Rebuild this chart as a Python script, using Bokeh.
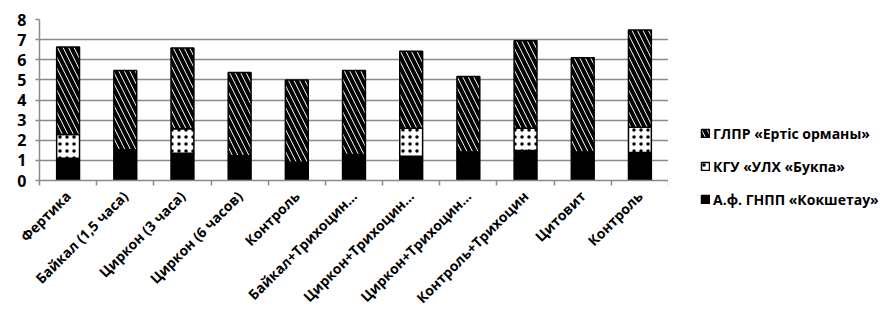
import math
from bokeh.plotting import figure
from bokeh.layouts import row, column
from bokeh.models import ColumnDataSource, FixedTicker, Legend, LegendItem
from bokeh.transform import stack
from bokeh.embed import file_html
from bokeh.resources import INLINE

categories = ["Фертика", "Байкал (1,5 часа)", "Циркон (3 часа)", "Циркон (6 часов)",
              "Контроль", "Байкал+Трихоцин…", "Циркон+Трихоцин…", "Циркон+Трихоцин…",
              "Контроль+Трихоцин", "Цитовит", "Контроль"]
kokshetau = [1.11, 1.53, 1.36, 1.23, 0.91, 1.29, 1.21, 1.41, 1.49, 1.41, 1.39]
bukpa = [1.18, 0.0, 1.21, 0.0, 0.0, 0.0, 1.39, 0.0, 1.11, 0.0, 1.25]
ertis = [4.34, 3.94, 4.01, 4.14, 4.08, 4.18, 3.82, 3.76, 4.35, 4.69, 4.84]
series_names = ["А.ф. ГНПП «Кокшетау»", "КГУ «УЛХ «Букпа»", "ГЛПР «Ертіс орманы»"]
y_ticks = [0, 1, 2, 3, 4, 5, 6, 7, 8]

x = list(range(len(categories)))
src = ColumnDataSource(dict(x=x, a=kokshetau, b=bukpa, c=ertis))

FONT = "Open Sans"
GRID = "#8a8a8a"

styles = [dict(fill_color="black"),
          dict(fill_color="white", hatch_pattern=".", hatch_color="black",
               hatch_scale=7, hatch_weight=0.35),
          dict(fill_color="white", hatch_pattern="\\", hatch_color="black",
               hatch_scale=11, hatch_weight=4)]


def add_bars(fig, visible=True):
    common = dict(x="x", width=0.4, source=src, line_color="black", line_width=1.5,
                  visible=visible)
    r1 = fig.vbar(bottom=stack(), top=stack("a"), **styles[0], **common)
    r2 = fig.vbar(bottom=stack("a"), top=stack("a", "b"), **styles[1], **common)
    r3 = fig.vbar(bottom=stack("a", "b"), top=stack("a", "b", "c"), **styles[2], **common)
    return r1, r2, r3


p = figure(width=668, height=319, output_backend="svg", toolbar_location=None,
           x_range=(-0.5, len(categories) - 0.5), y_range=(0, 8),
           min_border_left=39, min_border_right=0, min_border_top=19, min_border_bottom=139)
p.outline_line_color = None
add_bars(p)

# axes
p.xgrid.visible = False
p.ygrid.grid_line_color = GRID
p.ygrid.grid_line_width = 1.5
p.yaxis.ticker = FixedTicker(ticks=y_ticks)
p.yaxis.axis_line_color = GRID
p.yaxis.axis_line_width = 1.5
p.yaxis.major_tick_line_color = GRID
p.yaxis.major_tick_line_width = 1.5
p.yaxis.major_tick_out = 4
p.yaxis.major_tick_in = 0
p.yaxis.minor_tick_line_color = None
p.yaxis.major_label_text_font = FONT
p.yaxis.major_label_text_font_style = "bold"
p.yaxis.major_label_text_font_size = "16px"
p.yaxis.major_label_text_color = "black"
p.yaxis.major_label_standoff = 9

bounds = [i - 0.5 for i in range(len(categories) + 1)]
p.xaxis.ticker = FixedTicker(ticks=x, minor_ticks=bounds)
p.xaxis.major_label_overrides = {i: c for i, c in enumerate(categories)}
p.xaxis.axis_line_color = GRID
p.xaxis.axis_line_width = 1.5
p.xaxis.major_tick_line_color = None
p.xaxis.major_tick_out = 0
p.xaxis.major_tick_in = 0
p.xaxis.minor_tick_line_color = GRID
p.xaxis.minor_tick_line_width = 1.5
p.xaxis.minor_tick_out = 5
p.xaxis.minor_tick_in = 0
p.xaxis.major_label_orientation = math.pi / 4
p.xaxis.major_label_text_font = FONT
p.xaxis.major_label_text_font_style = "bold"
p.xaxis.major_label_text_font_size = "14px"
p.xaxis.major_label_text_color = "black"
p.xaxis.major_label_standoff = 8

# legend panel (its renderers are hidden; only the legend shows)
q = figure(width=228, height=319, output_backend="svg", toolbar_location=None,
           x_range=(-0.5, len(categories) - 0.5), y_range=(0, 8),
           x_axis_type=None, y_axis_type=None,
           min_border_left=2, min_border_right=0, min_border_top=0, min_border_bottom=80)
q.outline_line_color = None
q.xgrid.visible = False
q.ygrid.visible = False
lr = add_bars(q, visible=False)

legend = Legend(items=[LegendItem(label=series_names[2], renderers=[lr[2]]),
                       LegendItem(label=series_names[1], renderers=[lr[1]]),
                       LegendItem(label=series_names[0], renderers=[lr[0]])],
                location="bottom_left", orientation="vertical")
legend.padding = 0
legend.margin = 30
legend.border_line_color = None
legend.background_fill_alpha = 0
legend.glyph_width = 10
legend.glyph_height = 10
legend.label_height = 20
legend.spacing = 13
legend.label_standoff = 3
legend.label_text_font = FONT
legend.label_text_font_style = "bold"
legend.label_text_font_size = "14px"
legend.label_text_color = "black"
q.add_layout(legend, "center")

layout = row(p, column(q), spacing=0)
open("out.html", "w").write(file_html(layout, INLINE))
